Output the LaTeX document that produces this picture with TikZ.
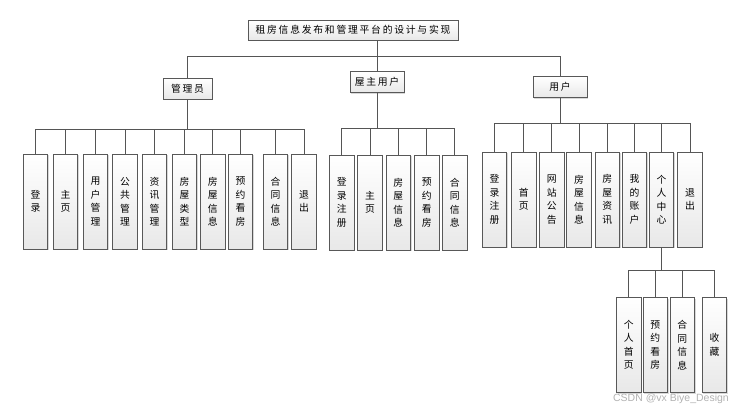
\documentclass[tikz,border=0pt]{standalone}
\usepackage{fontspec}
\setmainfont{Noto Sans CJK SC}
\newfontfamily\spacedcjk[LetterSpace=18]{Noto Sans CJK SC}
\newfontfamily\markfont{Liberation Sans}
\usetikzlibrary{shadows}
\definecolor{boxline}{RGB}{88,88,88}
\definecolor{wireline}{RGB}{85,85,85}

\begin{document}
\begin{tikzpicture}[x=1pt, y=-1pt,
    every node/.style={font=\fontsize{9.8}{13.5}\selectfont},
    framebox/.style={rectangle, draw=boxline, line width=0.9pt, inner sep=0pt,
        top color=white, bottom color=black!9,
        drop shadow={shadow xshift=1.2pt, shadow yshift=-1.2pt, fill=black!30, opacity=0.5}},
    titlebox/.style={framebox, minimum width=210pt, minimum height=20pt, font=\spacedcjk\fontsize{9.8}{12}\selectfont},
    headbox/.style={framebox, minimum height=21pt, font=\spacedcjk\fontsize{9.8}{12}\selectfont},
    leafbox/.style={framebox, minimum width=24.5pt, minimum height=95pt, align=center},
    wire/.style={draw=wireline, line width=0.9pt}]
    \useasboundingbox (0,0) rectangle (752,412);

    % top level
    \node[titlebox] (root) at (353,30) {租房信息发布和管理平台的设计与实现};
    \node[headbox, minimum width=49pt] (admin) at (187.5,88.5) {管理员};
    \node[headbox, minimum width=54pt] (owner) at (377,82) {屋主用户};
    \node[headbox, minimum width=54pt] (user) at (560,87) {用户};

    % 管理员
    \node[leafbox] (a1) at (35.5,201.5) {登\\录};
    \node[leafbox] (a2) at (65.5,201.5) {主\\页};
    \node[leafbox] (a3) at (95.5,201.5) {用\\户\\管\\理};
    \node[leafbox] (a4) at (125,201.5) {公\\共\\管\\理};
    \node[leafbox] (a5) at (154.5,201.5) {资\\讯\\管\\理};
    \node[leafbox] (a6) at (184.5,201.5) {房\\屋\\类\\型};
    \node[leafbox] (a7) at (212.7,201.5) {房\\屋\\信\\息};
    \node[leafbox] (a8) at (240.5,201.5) {预\\约\\看\\房};
    \node[leafbox] (a9) at (275.5,201.5) {合\\同\\信\\息};
    \node[leafbox] (a10) at (304,201.5) {退\\出};

    % 屋主用户
    \node[leafbox] (o1) at (341.8,202.5) {登\\录\\注\\册};
    \node[leafbox] (o2) at (370,202.5) {主\\页};
    \node[leafbox] (o3) at (398.3,202.5) {房\\屋\\信\\息};
    \node[leafbox] (o4) at (426.7,202.5) {预\\约\\看\\房};
    \node[leafbox] (o5) at (454.8,202.5) {合\\同\\信\\息};

    % 用户
    \node[leafbox] (u1) at (494.5,199.5) {登\\录\\注\\册};
    \node[leafbox] (u2) at (523.7,199.5) {首\\页};
    \node[leafbox] (u3) at (551.7,199.5) {网\\站\\公\\告};
    \node[leafbox] (u4) at (579,199.5) {房\\屋\\信\\息};
    \node[leafbox] (u5) at (607.3,199.5) {房\\屋\\资\\讯};
    \node[leafbox] (u6) at (634.5,199.5) {我\\的\\账\\户};
    \node[leafbox] (u7) at (661.5,199.5) {个\\人\\中\\心};
    \node[leafbox] (u8) at (690,199.5) {退\\出};

    % 个人中心
    \node[leafbox] (c1) at (628.7,345) {个\\人\\首\\页};
    \node[leafbox] (c2) at (655.3,345) {预\\约\\看\\房};
    \node[leafbox] (c3) at (682.2,345) {合\\同\\信\\息};
    \node[leafbox] (c4) at (714.5,345) {收\\藏};

    \node[font=\markfont\fontsize{10.5}{12}\selectfont, text=black!30] (mark) at (671,399) {CSDN @vx Biye\_Design};

    % connectors
    \draw[wire] (root.south -| owner.north) -- (owner.north);
    \draw[wire] (admin.north) -- ++(0,-21) -| (user.north);
    \foreach \k in {1,...,10}
        \draw[wire] (admin.south) -- ++(0,29.5) -| (a\k.north);
    \foreach \k in {1,...,5}
        \draw[wire] (owner.south) -- ++(0,35) -| (o\k.north);
    \foreach \k in {1,...,8}
        \draw[wire] (user.south) -- ++(0,25) -| (u\k.north);
    \foreach \k in {1,...,4}
        \draw[wire] (u7.south) -- ++(0,23) -| (c\k.north);
\end{tikzpicture}
\end{document}
